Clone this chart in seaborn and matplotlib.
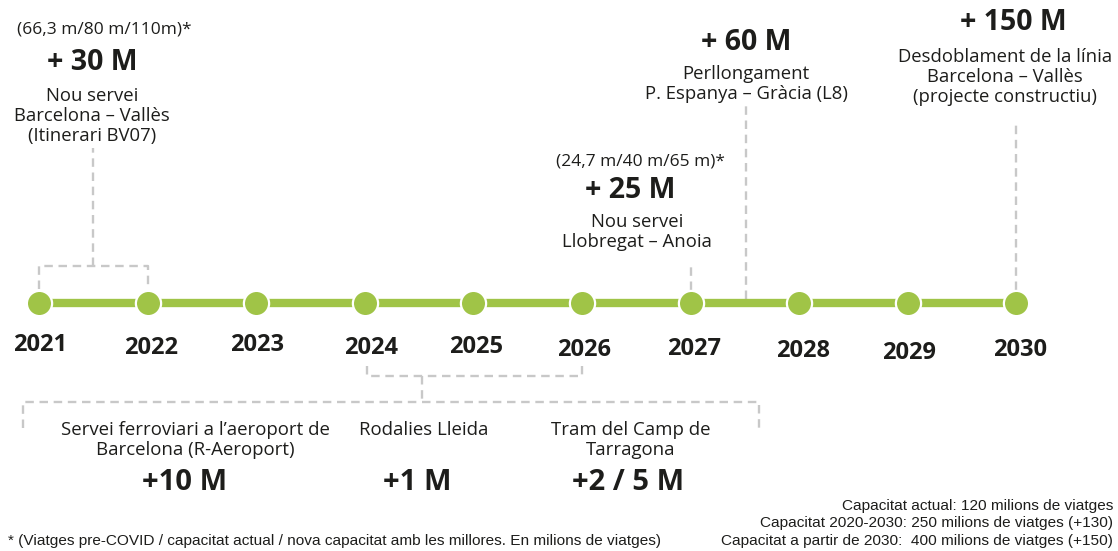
import matplotlib
matplotlib.use("Agg")
import matplotlib.pyplot as plt
import seaborn as sns
import pandas as pd

# ---------------- data ----------------
years = [2021, 2022, 2023, 2024, 2025, 2026, 2027, 2028, 2029, 2030]
year_labels = [str(y) for y in years]

top_values = ["+ 30 M", "+ 25 M", "+ 60 M", "+ 150 M"]
top_capacity = ["(66,3 m/80 m/110m)*", "(24,7 m/40 m/65 m)*", None, None]
top_desc = [
    "Nou servei\nBarcelona – Vallès\n(Itinerari BV07)",
    "Nou servei\nLlobregat – Anoia",
    "Perllongament\nP. Espanya – Gràcia (L8)",
    "Desdoblament de la línia\nBarcelona – Vallès\n(projecte constructiu)",
]
bottom_desc = [
    "Servei ferroviari a l’aeroport de\nBarcelona (R-Aeroport)",
    "Rodalies Lleida",
    "Tram del Camp de\nTarragona",
]
bottom_values = ["+10 M", "+1 M", "+2 / 5 M"]
capacity_notes = [
    "Capacitat actual: 120 milions de viatges",
    "Capacitat 2020-2030: 250 milions de viatges (+130)",
    "Capacitat a partir de 2030:  400 milions de viatges (+150)",
]
footnote = "* (Viatges pre-COVID / capacitat actual / nova capacitat amb les millores. En milions de viatges)"

# ---------------- style ----------------
GREEN = "#a0c447"
GREY = "#c8c8c8"
TXT = "#1d1d1b"
W, H = 1118, 551
PX_PER_YEAR = 108.6
X0_PX = 39.0

sns.set_theme(style="white")
plt.rcParams["font.family"] = ["Open Sans", "DejaVu Sans"]

fig = plt.figure(figsize=(W / 100, H / 100), dpi=100)
ax = fig.add_axes([0, 0, 1, 1])
ax.set_xlim(years[0] - X0_PX / PX_PER_YEAR, years[0] + (W - X0_PX) / PX_PER_YEAR)
ax.set_ylim(H, 0)
ax.axis("off")


def X(px):
    """layout helper: horizontal pixel -> year axis position"""
    return years[0] + (px - X0_PX) / PX_PER_YEAR


TL_Y = 302.5
df = pd.DataFrame({"year": years, "y": [TL_Y] * len(years)})
sns.lineplot(data=df, x="year", y="y", color=GREEN, linewidth=6, ax=ax,
             solid_capstyle="butt", zorder=2)
sns.scatterplot(data=df, x="year", y="y", color=GREEN, s=330, edgecolor="white",
                linewidth=1.6, ax=ax, zorder=3, legend=False)

# year labels (slightly staggered as in the original)
label_y = [345, 348, 345, 348, 347, 350, 349, 351, 353, 350]
label_dx = [1, 3, 1, 6, 3, 2, 3, 4, 1, 4]
for yr, lab, ly, dx in zip(years, year_labels, label_y, label_dx):
    ax.text(yr + dx / PX_PER_YEAR, ly, lab, ha="center", va="center",
            fontsize=17, fontweight="bold", color=TXT)

# dashed connectors
dash = dict(color=GREY, linewidth=1.7, linestyle=(0, (3.6, 2.4)), zorder=1,
            solid_capstyle="butt", dash_capstyle="butt")
# 2021-2022 bracket
ax.plot([years[0], years[0], years[1], years[1]], [289, 265.5, 265.5, 289], **dash)
ax.plot([X(93), X(93)], [265.5, 148], **dash)
# 2027
ax.plot([years[6], years[6]], [290, 262], **dash)
# L8 (between 2027 and 2028)
ax.plot([X(746), X(746)], [299, 104], **dash)
# 2030
ax.plot([years[9], years[9]], [290, 122], **dash)
# 2024-2026 bracket
ax.plot([years[3] + 2 / PX_PER_YEAR, years[3] + 2 / PX_PER_YEAR, years[5], years[5]],
        [366, 375.5, 375.5, 366], **dash)
ax.plot([X(422), X(422)], [375.5, 402], **dash)
ax.plot([X(23.5), X(23.5), X(759), X(759)], [428, 402, 402, 428], **dash)

# top annotations
top_cap_pos = [(X(104), 30), (X(640), 161), None, None]
top_val_pos = [(X(92), 63), (X(630), 190), (X(746), 42), (X(1013), 22)]
top_desc_pos = [(X(92), 96), (X(637), 222), (X(746), 74), (X(1005), 57)]
for cap, cpos, val, vpos, desc, dpos in zip(top_capacity, top_cap_pos, top_values,
                                            top_val_pos, top_desc, top_desc_pos):
    if cap is not None:
        ax.text(cpos[0], cpos[1], cap, ha="center", va="center", fontsize=12.5, color=TXT)
    ax.text(vpos[0], vpos[1], val, ha="center", va="center", fontsize=20.5,
            fontweight="bold", color=TXT)
    ax.text(dpos[0], dpos[1] - 9, desc, ha="center", va="top", fontsize=13.3,
            color=TXT, linespacing=1.14)

# bottom annotations
bot_desc_pos = [X(195), X(424), X(631)]
bot_val_pos = [X(185), X(417), X(628)]
for desc, dx, val, vx in zip(bottom_desc, bot_desc_pos, bottom_values, bot_val_pos):
    ax.text(dx, 421, desc, ha="center", va="top", fontsize=13.4,
            color=TXT, linespacing=1.15)
    ax.text(vx, 482, val, ha="center", va="center", fontsize=21,
            fontweight="bold", color=TXT)

# notes
note_font = ["Liberation Sans", "DejaVu Sans"]
for i, note in enumerate(capacity_notes):
    ax.text(X(W - 5), 506 + i * 17.5, note, ha="right", va="center", fontsize=11.1,
            family=note_font, color=TXT)
ax.text(X(8), 541, footnote, ha="left", va="center", fontsize=11.1,
        family=note_font, color=TXT)

fig.savefig("out.png", dpi=100)
